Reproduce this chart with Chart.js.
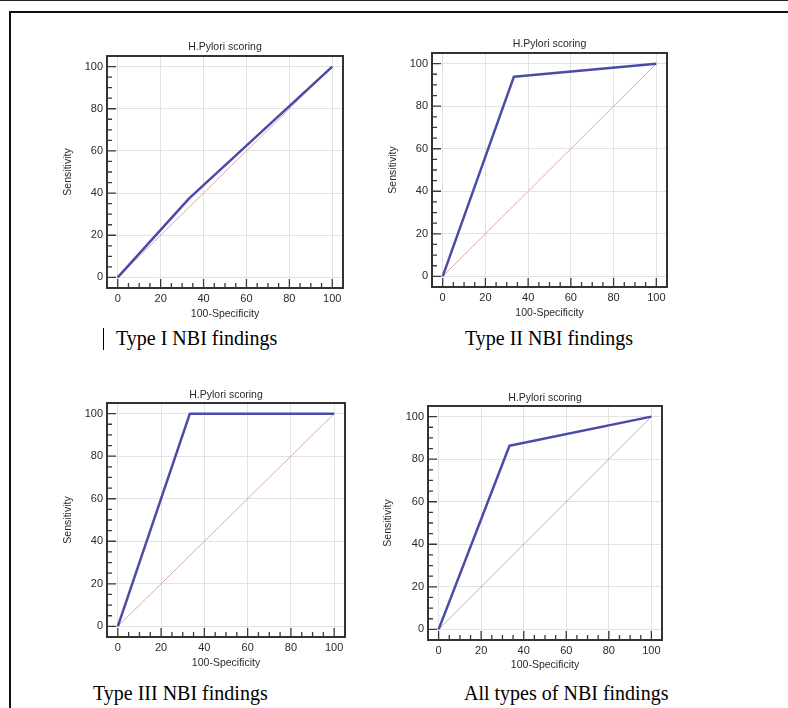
<!DOCTYPE html>
<html><head><meta charset="utf-8">
<script src="https://cdn.jsdelivr.net/npm/chart.js@4.4.0/dist/chart.umd.min.js"></script>
<style>
html,body{margin:0;padding:0;background:#fff;}
body{width:788px;height:708px;position:relative;overflow:hidden;}
.topline{position:absolute;left:0;top:0;width:788px;height:1px;background:#222;}
.box{position:absolute;left:9px;top:11px;width:800px;height:720px;border-top:2px solid #111;border-left:2px solid #111;}
.cv{position:absolute;}
.cap{position:absolute;font-family:"Liberation Serif","Times New Roman",serif;font-size:20px;line-height:20px;color:#000;white-space:nowrap;}
.bar{position:absolute;width:1px;background:#000;}
</style></head><body>
<div class="topline"></div>
<div class="box"></div>
<script>
// ---- data ----
const panelTitle = 'H.Pylori scoring';
const xAxisTitle = '100-Specificity';
const yAxisTitle = 'Sensitivity';
const captions = ['Type I NBI findings', 'Type II NBI findings', 'Type III NBI findings', 'All types of NBI findings'];
const tickValues = [0, 20, 40, 60, 80, 100];
const minorTickValues = [5, 10, 15, 25, 30, 35, 45, 50, 55, 65, 70, 75, 85, 90, 95];
const diagonalX = [0, 100];
const diagonalY = [0, 100];
const rocType1X = [0, 33.3, 100];
const rocType1Y = [0, 37.5, 100];
const rocType2X = [0, 33.3, 100];
const rocType2Y = [0, 93.8, 100];
const rocType3X = [0, 33.3, 100];
const rocType3Y = [0, 100, 100];
const rocAllX = [0, 33.3, 100];
const rocAllY = [0, 86.3, 100];

// ---- layout (positions only) ----
const panels = [
  {fl:107, fr:343, ft:56, fb:288, tcy:47, xtcy:314, ytcx:68, capX:116, capY:338, bar:true},
  {fl:432, fr:667, ft:53, fb:287, tcy:44, xtcy:313, ytcx:393, capX:465, capY:338},
  {fl:107, fr:345, ft:403, fb:637, tcy:395, xtcy:663, ytcx:68, capX:93, capY:693},
  {fl:428, fr:662, ft:406, fb:640, tcy:398, xtcy:665, ytcx:388, capX:464, capY:693}
];
const FS = 10.5;
const FONT = {family: '"Liberation Sans", Arial, sans-serif', size: FS, weight: 'normal'};
const TICKFONT = {family: '"Liberation Sans", Arial, sans-serif', size: 11, weight: 'normal'};
const TXT = '#2a2a2a';

const framePlugin = {
  id: 'frame',
  afterDraw(chart) {
    const {ctx, chartArea: a, scales: {x, y}} = chart;
    ctx.save();
    ctx.strokeStyle = '#3a3a3a';
    ctx.lineWidth = 1.3;
    ctx.beginPath();
    tickValues.forEach(v => {
      const px = x.getPixelForValue(v); ctx.moveTo(px, a.bottom); ctx.lineTo(px, a.bottom - 9);
      const py = y.getPixelForValue(v); ctx.moveTo(a.left, py); ctx.lineTo(a.left + 9, py);
    });
    minorTickValues.forEach(v => {
      const px = x.getPixelForValue(v); ctx.moveTo(px, a.bottom); ctx.lineTo(px, a.bottom - 5);
      const py = y.getPixelForValue(v); ctx.moveTo(a.left, py); ctx.lineTo(a.left + 5, py);
    });
    ctx.stroke();
    ctx.lineWidth = 2;
    ctx.strokeStyle = '#333';
    ctx.strokeRect(a.left, a.top, a.right - a.left, a.bottom - a.top);
    ctx.restore();
  }
};

function pts(xs, ys) { return xs.map((v, k) => ({x: v, y: ys[k]})); }

function makeChart(i, rx, ry) {
  const p = panels[i];
  const half = FS * 1.2 / 2;
  const cLeft = Math.round(p.ytcx - half);
  const cTop = Math.round(p.tcy - half);
  const cRight = p.fr + 4;
  const cBottom = Math.round(p.xtcy + half);
  const w = cRight - cLeft, h = cBottom - cTop;
  const yW = p.fl - cLeft;
  const xH = cBottom - p.fb;
  const titlePadBottom = p.ft - cTop - FS * 1.2;
  const div = document.createElement('div');
  div.className = 'cv';
  div.style.left = cLeft + 'px'; div.style.top = cTop + 'px';
  div.style.width = w + 'px'; div.style.height = h + 'px';
  const canvas = document.createElement('canvas');
  canvas.width = w; canvas.height = h;
  canvas.style.width = w + 'px'; canvas.style.height = h + 'px';
  div.appendChild(canvas);
  document.body.appendChild(div);

  const axisCommon = {
    type: 'linear', min: -5, max: 105,
    afterBuildTicks(s) { s.ticks = tickValues.map(v => ({value: v})); },
    grid: {color: '#e2e2e2', lineWidth: 1, drawTicks: false},
    border: {display: false},
    ticks: {font: TICKFONT, color: TXT, padding: 4, maxRotation: 0, autoSkip: false}
  };

  new Chart(canvas, {
    type: 'scatter',
    data: {datasets: [
      {data: pts(diagonalX, diagonalY), showLine: true, borderColor: '#dca9a9', borderWidth: 1, pointRadius: 0, order: 2},
      {data: pts(rx, ry), showLine: true, borderColor: '#4a4aa8', borderWidth: 2.5, pointRadius: 0, borderJoinStyle: 'round', order: 1}
    ]},
    options: {
      responsive: false, animation: false, devicePixelRatio: 1,
      layout: {padding: {left: 0, top: 0, right: 4, bottom: 0}},
      plugins: {
        legend: {display: false}, tooltip: {enabled: false},
        title: {display: true, text: panelTitle, fullSize: false, font: FONT, color: TXT, padding: {top: 0, bottom: titlePadBottom}}
      },
      scales: {
        x: Object.assign({}, axisCommon, {
          position: 'bottom',
          afterFit(s) { s.height = xH; },
          title: {display: true, text: xAxisTitle, font: FONT, color: TXT, padding: 0}
        }),
        y: Object.assign({}, axisCommon, {
          position: 'left',
          afterFit(s) { s.width = yW; },
          title: {display: true, text: yAxisTitle, font: FONT, color: TXT, padding: 0}
        })
      }
    },
    plugins: [framePlugin]
  });

  const cap = document.createElement('div');
  cap.className = 'cap';
  cap.style.left = p.capX + 'px';
  cap.style.top = (p.capY - 10) + 'px';
  cap.textContent = captions[i];
  document.body.appendChild(cap);
  if (p.bar) {
    const b = document.createElement('div');
    b.className = 'bar';
    b.style.left = (p.capX - 13) + 'px';
    b.style.top = (p.capY - 10) + 'px';
    b.style.height = '22px';
    document.body.appendChild(b);
  }
}

makeChart(0, rocType1X, rocType1Y);
makeChart(1, rocType2X, rocType2Y);
makeChart(2, rocType3X, rocType3Y);
makeChart(3, rocAllX, rocAllY);
</script>
</body></html>
